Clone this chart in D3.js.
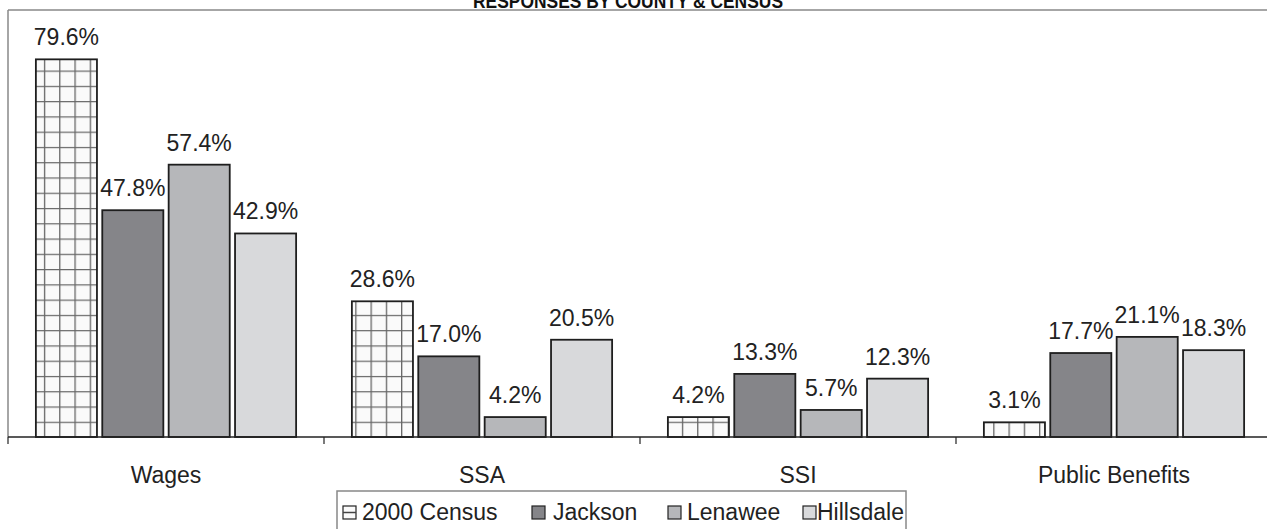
<!DOCTYPE html>
<meta charset="utf-8">
<body style="margin:0;background:#fff;">
<div id="chart"></div>
<script src="https://d3js.org/d3.v7.min.js"></script>
<script>
const width = 1267, height = 529;

// data
const categories = ["Wages", "SSA", "SSI", "Public Benefits"];
const seriesNames = ["2000 Census", "Jackson", "Lenawee", "Hillsdale"];
const census = [79.6, 28.6, 4.2, 3.1];
const jackson = [47.8, 17.0, 13.3, 17.7];
const lenawee = [57.4, 4.2, 5.7, 21.1];
const hillsdale = [42.9, 20.5, 12.3, 18.3];
const seriesValues = [census, jackson, lenawee, hillsdale];

const fills = ["url(#grid)", "#858589", "#b6b7ba", "#d8d9db"];

const svg = d3.select("#chart").append("svg")
	.attr("width", width)
	.attr("height", height)
	.style("display", "block")
	.style("font-family", "'Liberation Sans', Arial, sans-serif");

const defs = svg.append("defs");

// plot area
const plotLeft = 8, plotTop = 10, base = 437, groupW = 316;

const x0 = d3.scaleBand()
	.domain(categories)
	.range([plotLeft, plotLeft + groupW * categories.length]);

const x1 = d3.scaleBand()
	.domain(seriesNames)
	.range([0, groupW])
	.paddingInner(0.08)
	.paddingOuter(0.42);

const y = d3.scaleLinear()
	.domain([0, 90])
	.range([base, plotTop]);

const cell = x1.bandwidth() / 4;

// title (clipped at the top like the original)
svg.append("text")
	.attr("x", 628)
	.attr("y", 8)
	.attr("text-anchor", "middle")
	.attr("textLength", 310)
	.attr("lengthAdjust", "spacingAndGlyphs")
	.style("font-family", "'Liberation Sans Narrow', 'Arial Narrow', 'Liberation Sans', sans-serif")
	.style("font-weight", "bold")
	.style("font-size", "20px")
	.style("fill", "#111")
	.text("RESPONSES BY COUNTY & CENSUS");

// frame lines
svg.append("line")
	.attr("x1", plotLeft).attr("x2", width)
	.attr("y1", plotTop).attr("y2", plotTop)
	.attr("stroke", "#888").attr("stroke-width", 1.5);
svg.append("line")
	.attr("x1", plotLeft).attr("x2", plotLeft)
	.attr("y1", plotTop).attr("y2", base)
	.attr("stroke", "#888").attr("stroke-width", 1.5);

// bars
const groups = svg.selectAll("g.group")
	.data(categories)
	.enter().append("g")
	.attr("class", "group")
	.attr("transform", d => "translate(" + x0(d) + ",0)");

groups.each(function(cat, ci) {
	const g = d3.select(this);
	seriesNames.forEach(function(s, si) {
		const v = seriesValues[si][ci];
		const bx = x0(cat) + x1(s);
		let fill = fills[si];
		if (si === 0) {
			// one grid pattern per bar so the cells line up with the bar edges
			const pid = "grid" + ci;
			const p = defs.append("pattern")
				.attr("id", pid)
				.attr("patternUnits", "userSpaceOnUse")
				.attr("x", bx).attr("y", base)
				.attr("width", cell).attr("height", cell);
			p.append("rect").attr("width", cell).attr("height", cell).attr("fill", "#fafafa");
			p.append("path")
				.attr("d", "M0,0H" + cell + "M0,0V" + cell)
				.attr("stroke", "#666").attr("stroke-width", 2.6);
			fill = "url(#" + pid + ")";
		}
		g.append("rect")
			.attr("x", x1(s))
			.attr("y", y(v))
			.attr("width", x1.bandwidth())
			.attr("height", base - y(v))
			.attr("fill", fill)
			.attr("stroke", "#1e1e1e")
			.attr("stroke-width", 1.8);
		g.append("text")
			.attr("x", x1(s) + x1.bandwidth() / 2)
			.attr("y", y(v) - 14)
			.attr("text-anchor", "middle")
			.style("font-size", "23px")
			.style("fill", "#222")
			.text(v.toFixed(1) + "%");
	});
});

// baseline + category ticks
svg.append("line")
	.attr("x1", plotLeft).attr("x2", width)
	.attr("y1", base).attr("y2", base)
	.attr("stroke", "#222").attr("stroke-width", 1.5);

svg.selectAll("line.tick")
	.data(categories)
	.enter().append("line")
	.attr("class", "tick")
	.attr("x1", d => x0(d)).attr("x2", d => x0(d))
	.attr("y1", base).attr("y2", base + 7)
	.attr("stroke", "#222").attr("stroke-width", 1.2);

svg.selectAll("text.cat")
	.data(categories)
	.enter().append("text")
	.attr("class", "cat")
	.attr("x", d => x0(d) + groupW / 2)
	.attr("y", 483)
	.attr("text-anchor", "middle")
	.style("font-size", "23px")
	.style("fill", "#222")
	.text(d => d);

// legend
const legend = svg.append("g");
legend.append("rect")
	.attr("x", 337).attr("y", 491)
	.attr("width", 569).attr("height", 50)
	.attr("fill", "#fff")
	.attr("stroke", "#888").attr("stroke-width", 1.5);

const legX = [343, 532, 668, 803];
const legTextX = [362, 553, 687, 817];

seriesNames.forEach(function(s, i) {
	legend.append("rect")
		.attr("x", legX[i]).attr("y", 506)
		.attr("width", 13).attr("height", 13)
		.attr("fill", i === 0 ? "#fafafa" : fills[i])
		.attr("stroke", "#222").attr("stroke-width", 1.2);
	if (i === 0) {
		legend.append("line")
			.attr("x1", legX[i]).attr("x2", legX[i] + 13)
			.attr("y1", 512.5).attr("y2", 512.5)
			.attr("stroke", "#444").attr("stroke-width", 1.5);
	}
	legend.append("text")
		.attr("x", legTextX[i])
		.attr("y", 520)
		.style("font-size", "23px")
		.style("fill", "#222")
		.text(s);
});
</script>
</body>
